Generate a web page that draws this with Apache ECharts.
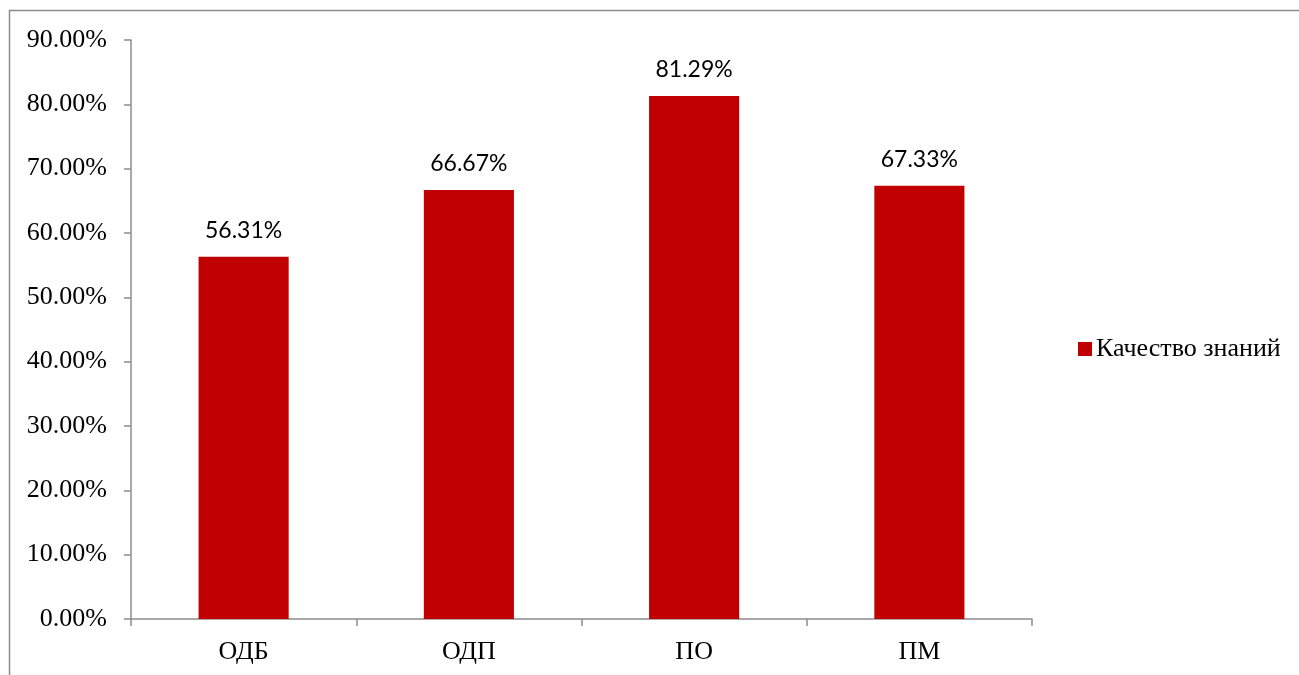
<!DOCTYPE html>
<html>
<head>
<meta charset="utf-8">
<script src="https://cdn.jsdelivr.net/npm/echarts@6/dist/echarts.min.js"></script>
<style>
html,body{margin:0;padding:0;background:#fff;}
#c{width:1299px;height:675px;}
</style>
</head>
<body>
<div id="c"></div>
<script>
const categories = ['ОДБ', 'ОДП', 'ПО', 'ПМ'];
const values = [56.31, 66.67, 81.29, 67.33];
const seriesName = 'Качество знаний';

const chart = echarts.init(document.getElementById('c'), null, {renderer: 'canvas'});
chart.setOption({
  animation: false,
  backgroundColor: '#fff',
  graphic: [{
    type: 'rect',
    silent: true,
    shape: {x: 9.5, y: 10.5, width: 1400, height: 800},
    style: {fill: 'none', stroke: '#8c8c8c', lineWidth: 1.5}
  }],
  grid: {left: 131, top: 40, right: 267, bottom: 56},
  legend: {
    data: [seriesName],
    orient: 'vertical',
    left: 1073,
    top: 331,
    icon: 'rect',
    itemWidth: 14,
    itemHeight: 14,
    itemGap: 5,
    textStyle: {fontFamily: 'Liberation Serif', fontSize: 26, color: '#000', padding: [0,0,0,-1]}
  },
  xAxis: {
    type: 'category',
    data: categories,
    axisLine: {lineStyle: {color: '#8c8c8c', width: 1.5}},
    axisTick: {show: true, length: 7, alignWithLabel: false, lineStyle: {color: '#8c8c8c', width: 1.5}},
    axisLabel: {fontFamily: 'Liberation Serif', fontSize: 26, color: '#000', margin: 20}
  },
  yAxis: {
    type: 'value',
    min: 0,
    max: 90,
    interval: 10,
    splitLine: {show: false},
    axisLine: {show: true, lineStyle: {color: '#8c8c8c', width: 1.5}},
    axisTick: {show: true, length: 7, lineStyle: {color: '#8c8c8c', width: 1.5}},
    axisLabel: {
      fontFamily: 'Liberation Serif', fontSize: 26, color: '#000', margin: 24,
      formatter: v => v.toFixed(2) + '%'
    }
  },
  series: [{
    name: seriesName,
    type: 'bar',
    data: values,
    barWidth: '40%',
    itemStyle: {color: '#C00000'},
    label: {
      show: true,
      position: 'top',
      distance: 15,
      fontFamily: 'Lato',
      fontSize: 23,
      color: '#000',
      formatter: p => p.value.toFixed(2) + '%'
    }
  }]
});
</script>
</body>
</html>
